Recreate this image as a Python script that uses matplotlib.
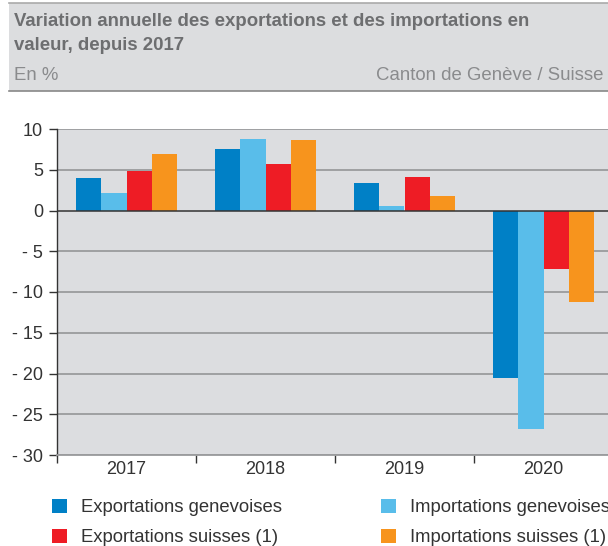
import numpy as np
import matplotlib
matplotlib.use('Agg')
import matplotlib.pyplot as plt
from matplotlib.patches import Rectangle, Patch

plt.rcParams['font.family'] = ['Liberation Sans', 'DejaVu Sans']

# data
years = ['2017', '2018', '2019', '2020']
export_ge = [3.95, 7.6, 3.4, -20.5]
import_ge = [2.2, 8.8, 0.6, -26.8]
export_ch = [4.9, 5.7, 4.1, -7.2]
import_ch = [6.9, 8.6, 1.8, -11.2]
series_names = ['Exportations genevoises', 'Importations genevoises',
                'Exportations suisses (1)', 'Importations suisses (1)']
y_ticks = [10, 5, 0, -5, -10, -15, -20, -25, -30]

colors = ['#0080c6', '#59bdea', '#ee1c25', '#f7941d']
W, H = 608, 546

fig = plt.figure(figsize=(W / 100, H / 100), dpi=100)
fig.patch.set_facecolor('white')

# header box
fig.patches.append(Rectangle((9 / W, 1 - 91 / H), 1 - 9 / W, 88 / H,
                             transform=fig.transFigure, facecolor='#dcdddf',
                             edgecolor='none', zorder=0))
fig.add_artist(plt.Line2D([9 / W, 1], [1 - 3 / H, 1 - 3 / H], transform=fig.transFigure,
                          color='#aaaaaa', linewidth=1.2))
fig.add_artist(plt.Line2D([9 / W, 1], [1 - 91 / H, 1 - 91 / H], transform=fig.transFigure,
                          color='#888888', linewidth=1.2))
fig.text(14 / W, 1 - 22 / H, 'Variation annuelle des exportations et des importations en',
         fontsize=13.4, fontweight='bold', color='#6d6e70', va='center', ha='left')
fig.text(14 / W, 1 - 45 / H, 'valeur, depuis 2017',
         fontsize=13.4, fontweight='bold', color='#6d6e70', va='center', ha='left')
fig.text(14 / W, 1 - 76 / H, 'En %', fontsize=13.4, color='#8a8b8d', va='center', ha='left')
fig.text(604 / W, 1 - 76 / H, 'Canton de Genève / Suisse', fontsize=13.4,
         color='#8a8b8d', va='center', ha='right')

# plot area
ax = fig.add_axes([57 / W, (H - 455) / H, 556 / W, 326 / H])
ax.set_facecolor('#dcdde0')

x = np.arange(len(years))
w = 0.183
all_series = [export_ge, import_ge, export_ch, import_ch]
for i, (vals, col) in enumerate(zip(all_series, colors)):
    ax.bar(x + (i - 1.5) * w, vals, width=w, color=col, zorder=2, linewidth=0)

ax.set_xlim(-0.5, 3.5)
ax.set_ylim(-30, 10)

for v in y_ticks:
    if v != 0:
        ax.axhline(v, color='#9a9b9d', linewidth=1.3, zorder=1)
ax.axhline(0, color='#333333', linewidth=1.1, zorder=3)

ax.set_yticks(y_ticks)
ax.set_yticklabels([str(v) if v >= 0 else '- ' + str(-v) for v in y_ticks])
ax.set_xticks(x)
ax.set_xticklabels(years)
ax.set_xticks([-0.5, 0.5, 1.5, 2.5], minor=True)
ax.tick_params(axis='x', which='major', length=0, pad=4.5, labelsize=13, labelcolor='#333333')
ax.tick_params(axis='x', which='minor', length=5.8, width=1, color='#333333', direction='out')
ax.tick_params(axis='y', length=5.8, width=1, color='#333333', pad=4.3,
               labelsize=13, labelcolor='#333333')

for s in ['top', 'right']:
    ax.spines[s].set_visible(False)
ax.spines['left'].set_color('#333333')
ax.spines['left'].set_linewidth(1)
ax.spines['bottom'].set_color('#9a9b9d')
ax.spines['bottom'].set_linewidth(1.3)

# legend
order = [0, 2, 1, 3]
handles = [Patch(facecolor=colors[i], edgecolor='none', label=series_names[i]) for i in order]
fig.legend(handles=handles, loc='upper left', bbox_to_anchor=(52 / W, 1 - 499 / H),
           ncol=2, frameon=False, fontsize=13.3, handlelength=0.81, handleheight=0.78,
           handletextpad=0.76, columnspacing=5.35, labelspacing=0.69,
           borderpad=0, borderaxespad=0, labelcolor='#333333')

fig.savefig('out.png', dpi=100, facecolor='white')
